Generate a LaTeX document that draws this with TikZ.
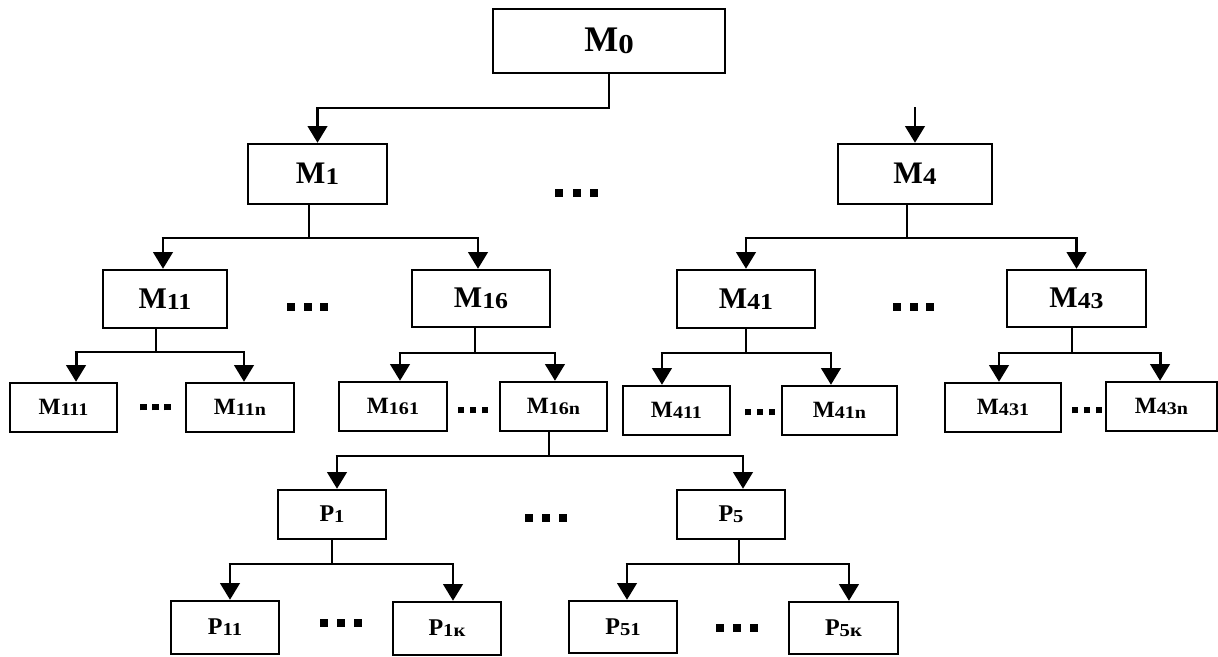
\documentclass[tikz,border=0pt]{standalone}
\usepackage{fontspec}
\setmainfont{Liberation Serif}
\usepackage{graphicx}
\usetikzlibrary{arrows.meta}
\newcommand\sbs[1]{\raisebox{-0.04em}{\scalebox{0.86}[0.76]{#1}}}
\newcommand\dts[2]{\rule{#1}{#1}\hspace{#2}\rule{#1}{#1}\hspace{#2}\rule{#1}{#1}}
\newcommand\bx[7]{\node[box,#6,minimum width=#4,minimum height=#5] (#1) at (#2,#3) {#7};}
% parent, stem xshift, drop, child1, shift1, child2, shift2
\newcommand\branch[7]{%
 \coordinate (#1s) at ([xshift=#2]#1.south);
 \coordinate (#4t) at ([xshift=#5]#4.north);
 \coordinate (#6t) at ([xshift=#7]#6.north);
 \draw[ln] (#1s) -- ++(0,#3) coordinate (#1b);
 \draw[ln,shorten <=-1.1pt,shorten >=-1.1pt] (#4t |- #1b) -- (#6t |- #1b);
 \draw[arr] (#4t |- #1b) -- (#4t);
 \draw[arr] (#6t |- #1b) -- (#6t);}
\begin{document}
\begin{tikzpicture}[x=0.75pt,y=-0.75pt,
 box/.style={draw, line width=1.8pt, inner sep=0pt, font=\bfseries},
 ln/.style={line width=1.6pt},
 arr/.style={line width=2.2pt, -{Triangle[width=14.5pt,length=12.5pt]}},
 big/.style={font=\fontsize{27}{31}\selectfont\bfseries},
 one/.style={font=\fontsize{23.5}{27}\selectfont\bfseries},
 two/.style={font=\fontsize{22.5}{26}\selectfont\bfseries},
 three/.style={font=\fontsize{17.5}{21}\selectfont\bfseries},
 pf/.style={font=\fontsize{18}{21}\selectfont\bfseries},
 dot/.style={inner sep=0pt}]
\useasboundingbox (0,0) rectangle (1218,657);
% boxes
\bx{M0}{609}{41}{174pt}{48pt}{big}{M\sbs{0}}
\bx{M1}{317.5}{174}{104.25pt}{45pt}{one}{M\sbs{1}}
\bx{M4}{915}{174}{115.5pt}{45pt}{one}{M\sbs{4}}
\bx{M11}{165}{299}{93pt}{43.5pt}{two}{M\sbs{11}}
\bx{M16}{481}{298.5}{103.5pt}{42.75pt}{two}{M\sbs{16}}
\bx{M41}{746}{299}{103.5pt}{43.5pt}{two}{M\sbs{41}}
\bx{M43}{1076.5}{298.5}{104.25pt}{42.75pt}{two}{M\sbs{43}}
\bx{M111}{63.5}{407.5}{80.25pt}{36.75pt}{three}{M\sbs{111}}
\bx{M11n}{240}{407.5}{81pt}{36.75pt}{three}{M\sbs{11n}}
\bx{M161}{393}{406.5}{81pt}{36.75pt}{three}{M\sbs{161}}
\bx{M16n}{553.5}{406.5}{80.25pt}{36.75pt}{three}{M\sbs{16n}}
\bx{M411}{676.5}{410.5}{80.25pt}{36.75pt}{three}{M\sbs{411}}
\bx{M41n}{839.5}{410.5}{86.25pt}{36.75pt}{three}{M\sbs{41n}}
\bx{M431}{1003}{407.5}{87pt}{36.75pt}{three}{M\sbs{431}}
\bx{M43n}{1161.5}{406.5}{83.25pt}{36.75pt}{three}{M\sbs{43n}}
\bx{P1}{332}{514.5}{81pt}{36.75pt}{pf}{P\sbs{1}}
\bx{P5}{731}{514.5}{81pt}{36.75pt}{pf}{P\sbs{5}}
\bx{P11}{225}{627.5}{81pt}{39.75pt}{pf}{P\sbs{11}}
\bx{P1k}{447}{628.5}{81pt}{39.75pt}{pf}{P\sbs{1к}}
\bx{P51}{623}{627}{81pt}{39pt}{pf}{P\sbs{51}}
\bx{P5k}{843.5}{628}{81.75pt}{39pt}{pf}{P\sbs{5к}}
% connectors
\coordinate (M1t) at (M1.north);
\draw[ln,shorten >=-1.1pt] (M0.south) -- ++(0,34) coordinate (M0b) -- (M0b -| M1t);
\draw[arr] (M0b -| M1t) -- (M1t);
\coordinate (m4in) at (915,107);
\draw[arr] (m4in) -- (M4.north);
\branch{M1}{-6.4pt}{33}{M11}{-1.5pt}{M16}{-2.25pt}
\branch{M4}{-6pt}{33}{M41}{0pt}{M43}{0pt}
\branch{M11}{-6.75pt}{23}{M111}{9.4pt}{M11n}{3pt}
\branch{M16}{-4.5pt}{25}{M161}{5.25pt}{M16n}{1.1pt}
\branch{M41}{0pt}{24}{M411}{-10.9pt}{M41n}{-6.4pt}
\branch{M43}{-3.4pt}{25}{M431}{-3pt}{M43n}{-1.1pt}
\branch{M16n}{-3.4pt}{24}{P1}{3.75pt}{P5}{9pt}
\branch{P1}{0pt}{24}{P11}{3.75pt}{P1k}{4.5pt}
\branch{P5}{6pt}{24}{P51}{3pt}{P5k}{4.1pt}
% ellipses
\node[dot] (d0) at (576.5,193) {\dts{6pt}{7.1pt}};
\node[dot] (d1) at (307.5,307) {\dts{6pt}{6.4pt}};
\node[dot] (d2) at (913.5,307) {\dts{6pt}{6.4pt}};
\node[dot] (d3) at (155.5,407) {\dts{5pt}{4.1pt}};
\node[dot] (d4) at (473,410) {\dts{5pt}{4.1pt}};
\node[dot] (d5) at (760,412) {\dts{5pt}{4.1pt}};
\node[dot] (d6) at (1087,410) {\dts{5pt}{4.1pt}};
\node[dot] (d7) at (546,518) {\dts{6pt}{6.75pt}};
\node[dot] (d8) at (341,623) {\dts{6pt}{6.75pt}};
\node[dot] (d9) at (737,628) {\dts{6pt}{6.75pt}};
\end{tikzpicture}
\end{document}
